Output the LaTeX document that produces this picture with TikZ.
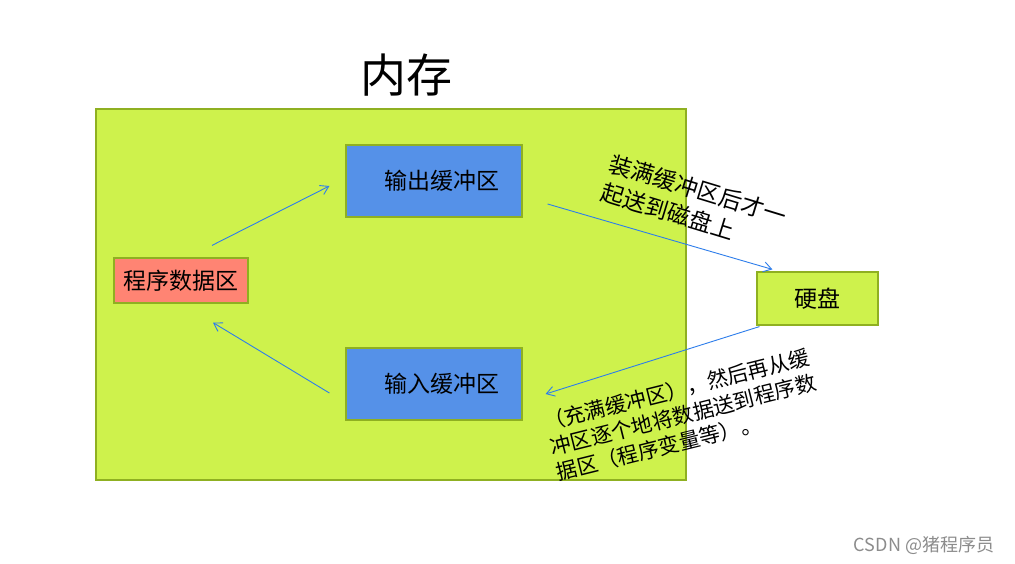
\documentclass[tikz,border=0pt]{standalone}
\usepackage{fontspec}
\setmainfont{Noto Sans CJK SC}
\usetikzlibrary{arrows.meta,positioning,calc}
\definecolor{memgreen}{HTML}{CEF24C}
\definecolor{boxedge}{HTML}{8FB021}
\definecolor{bufblue}{HTML}{5591E8}
\definecolor{progred}{HTML}{FF8473}
\definecolor{flowblue}{HTML}{2D7DEB}
\tikzset{
  area/.style={draw=boxedge, line width=1.2pt, inner sep=0pt},
  flow/.style={draw=flowblue, line width=0.9pt, -{Straight Barb[length=8pt,width=10pt]}},
  note/.style={align=left, inner sep=0pt}
}

\begin{document}
\begin{tikzpicture}[x=1pt, y=-1pt, font=\fontsize{23}{28}\selectfont]
  \useasboundingbox[fill=white] (0,0) rectangle (1015,564);
  \node[area, fill=memgreen, minimum width=590pt, minimum height=371pt] (mem) at (391,294.5) {};
  \node[font=\fontsize{46}{50}\selectfont] (title) at (406,75) {内存};
  \node[area, fill=bufblue, minimum width=176pt, minimum height=72pt] (outbuf) at (434,181) {\hspace*{16pt}输出缓冲区};
  \node[area, fill=bufblue, minimum width=176pt, minimum height=72pt] (inbuf) at (434,384) {\hspace*{16pt}输入缓冲区};
  \node[area, fill=progred, minimum width=134pt, minimum height=45pt] (prog) at (181,280.5) {程序数据区};
  \node[area, fill=memgreen, minimum width=121pt, minimum height=53pt] (disk) at (817.5,298.5) {硬盘};
  \draw[flow] ([shift={(31,-12)}]prog.north) -- ([shift={(-16,5)}]outbuf.west);
  \draw[flow] ([shift={(-16,9)}]inbuf.west) -- ([shift={(32,19)}]prog.south);
  \draw[flow] ([shift={(25,23)}]outbuf.east) -- ([shift={(16,-2)}]disk.north west);
  \draw[flow] ([shift={(3,1)}]disk.south west) -- ([shift={(23,10)}]inbuf.east);
  \node[note, rotate=-17, font=\fontsize{23}{30}\selectfont] (sendnote) at (694,204) {装满缓冲区后才一\\起送到磁盘上};
  \node[note, rotate=14, font=\fontsize{21}{26}\selectfont] (readnote) at (683,415) {（充满缓冲区），然后再从缓\\冲区逐个地将数据送到程序数\\据区（程序变量等）。};
  \node[text=black!45, font=\fontsize{18}{20}\selectfont] (mark) at (924,545) {CSDN @猪程序员};
\end{tikzpicture}
\end{document}
